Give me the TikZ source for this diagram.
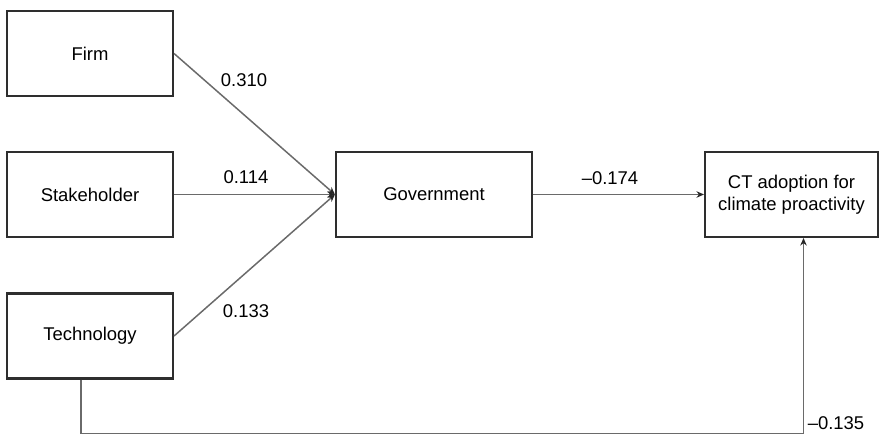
\documentclass[tikz,border=0pt]{standalone}
\usepackage{fontspec}
\setmainfont{Liberation Sans}
\usepackage{xcolor}
\usetikzlibrary{arrows.meta,positioning}
\definecolor{boxline}{HTML}{2E2E2E}
\definecolor{pathline}{HTML}{6A6A6A}

\begin{document}
\begin{tikzpicture}[
    x=0.02cm,
    y=-0.02cm,
    every node/.style={font=\fontsize{10.5}{12.5}\selectfont},
    factor/.style={draw=boxline, line width=1.2pt, fill=white, minimum width=3.32cm, minimum height=1.7cm, inner sep=2pt, align=center},
    pathlink/.style={draw=pathline, line width=0.85pt, -{Stealth[length=1.5mm, width=1.3mm, color=black!85]}},
    pathlabel/.style={fill=none, inner sep=1pt}
  ]
  \useasboundingbox (0,0) rectangle (891,435);
  %
  \node[factor] (firm) at (90,53.5) {Firm};
  \node[factor] (stake) at (90,194.5) {Stakeholder};
  \node[factor] (tech) at (90,336) {Technology};
  \node[factor, minimum width=3.92cm] (gov) at (434,194.5) {Government};
  \node[factor, minimum width=3.46cm] (ct) at (791.5,194.5) {CT adoption for\\climate proactivity};

  %
  \draw[pathlink] (firm.east) -- (gov.west);
  \draw[pathlink] (stake.east) -- (gov.west);
  \draw[pathlink] (tech.east) -- (gov.west);
  \draw[pathlink] (gov.east) -- (ct.west);

  \coordinate (techdown) at ([xshift=-0.18cm]tech.south);
  \coordinate (corner1) at (techdown |- 0,433.5);
  \coordinate (corner2) at ([xshift=0.24cm]ct.south |- 0,433.5);
  \draw[pathlink] (techdown) -- (corner1) -- (corner2) -- (corner2 |- ct.south);

  %
  \node[pathlabel] (w1) at (244,80) {0.310};
  \node[pathlabel] (w2) at (246,177) {0.114};
  \node[pathlabel] (w3) at (246,311) {0.133};
  \node[pathlabel] (w4) at (610,178) {–0.174};
  \node[pathlabel] (w5) at (836,423) {–0.135};
\end{tikzpicture}
\end{document}
